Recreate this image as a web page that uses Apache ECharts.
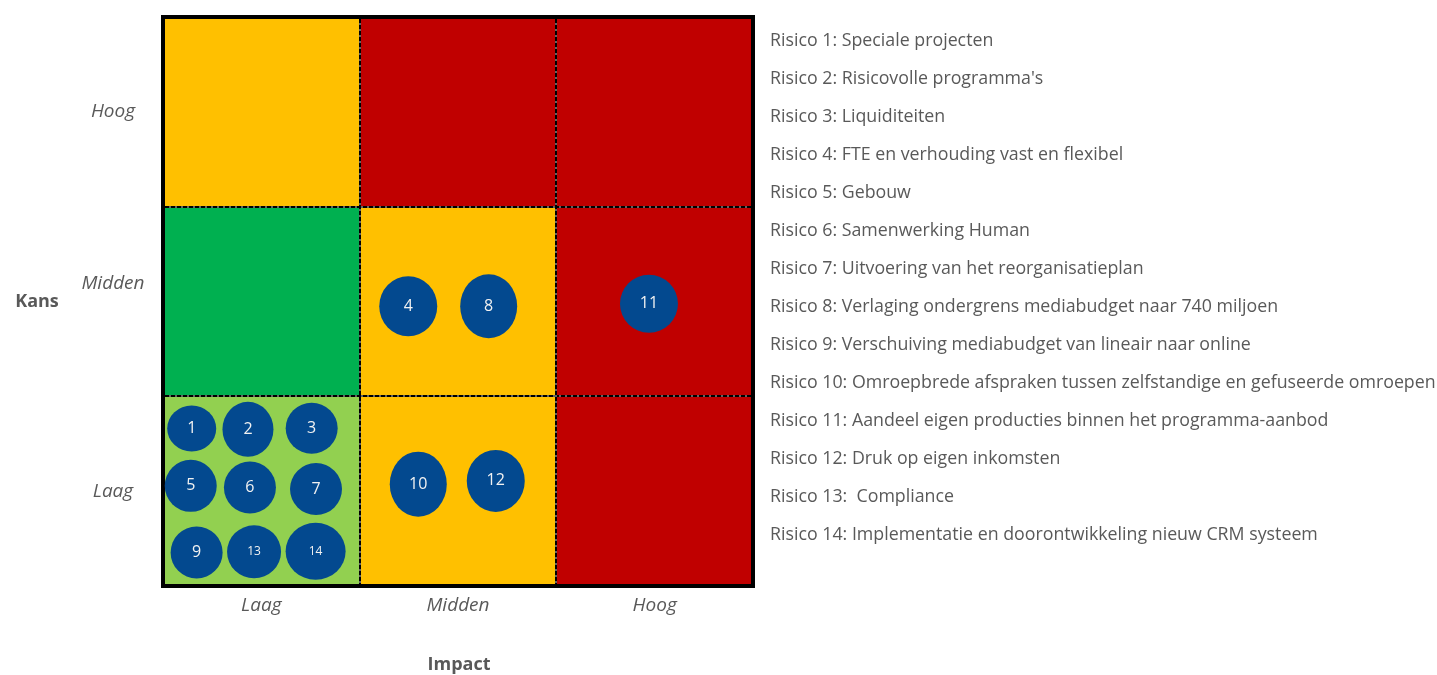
<!DOCTYPE html>
<html>
<head>
<meta charset="utf-8">
<script src="https://cdn.jsdelivr.net/npm/echarts@6/dist/echarts.min.js"></script>
<style>html,body{margin:0;padding:0;background:#fff;}#c{width:1437px;height:675px;}</style>
</head>
<body>
<div id="c"></div>
<script>
// ---- data ----
const levels = ['Laag', 'Midden', 'Hoog'];
// cell zone per row (bottom -> top), per column (left -> right)
const zoneLaag   = ['lichtgroen', 'oranje', 'rood'];
const zoneMidden = ['groen', 'oranje', 'rood'];
const zoneHoog   = ['oranje', 'rood', 'rood'];
const riskIds = ['1','2','3','4','5','6','7','8','9','10','11','12','13','14'];
const riskImpact = [0.146, 0.432, 0.756, 1.247, 0.141, 0.442, 0.778, 1.656, 0.171, 1.298, 2.471, 1.692, 0.463, 0.776];
const riskKans   = [0.830, 0.826, 0.832, 1.475, 0.528, 0.519, 0.511, 1.475, 0.177, 0.537, 1.488, 0.554, 0.180, 0.183];
const riskNames = [
  'Risico 1: Speciale projecten',
  "Risico 2: Risicovolle programma's",
  'Risico 3: Liquiditeiten',
  'Risico 4: FTE en verhouding vast en flexibel',
  'Risico 5: Gebouw',
  'Risico 6: Samenwerking Human',
  'Risico 7: Uitvoering van het reorganisatieplan',
  'Risico 8: Verlaging ondergrens mediabudget naar 740 miljoen',
  'Risico 9: Verschuiving mediabudget van lineair naar online',
  'Risico 10: Omroepbrede afspraken tussen zelfstandige en gefuseerde omroepen',
  'Risico 11: Aandeel eigen producties binnen het programma-aanbod',
  'Risico 12: Druk op eigen inkomsten',
  'Risico 13:  Compliance',
  'Risico 14: Implementatie en doorontwikkeling nieuw CRM systeem'
];

// ---- style ----
const zoneColors = { lichtgroen: '#92D050', groen: '#00B050', oranje: '#FFC000', rood: '#C00000' };
const bubbleShape = [[49,46],[51,55],[52,51],[58,60],[52,52],[52,52],[52,52],[57,64],[52,52],[57,65],[58,58],[58,62],[54,53],[60,57]];
const bubbleFont = [16,16,16,16,16,16,16,16,16,16,16,16,12,12];
const FONT = '"Open Sans", Lato, sans-serif';
const GREY = '#595959';

const cellData = [];
[zoneLaag, zoneMidden, zoneHoog].forEach((row, r) => row.forEach((z, c) => cellData.push([c, r, z])));

const bubbleData = riskIds.map((id, i) => ({
  value: [riskImpact[i], riskKans[i]],
  name: id,
  symbolSize: bubbleShape[i],
  label: { fontSize: bubbleFont[i] }
}));

const chart = echarts.init(document.getElementById('c'), null, { renderer: 'canvas' });
chart.setOption({
  animation: false,
  textStyle: { fontFamily: FONT },
  grid: { left: 163, top: 17, right: 684, bottom: 89, containLabel: false },
  title: {
    text: riskNames.join('\n'),
    left: 770, top: 22, padding: 0,
    textStyle: { fontFamily: FONT, fontSize: 17.8, fontWeight: 'normal', color: GREY, lineHeight: 38 }
  },
  graphic: [
    { type: 'text', x: 37, y: 302, style: { text: 'Kans', fill: GREY, font: 'bold 18px ' + FONT, align: 'center', verticalAlign: 'middle' } },
    { type: 'text', x: 459, y: 665, style: { text: 'Impact', fill: GREY, font: 'bold 18px ' + FONT, align: 'center', verticalAlign: 'middle' } }
  ],
  xAxis: [
    { type: 'value', min: 0, max: 3, interval: 1, show: false },
    { type: 'category', data: levels, position: 'bottom', boundaryGap: true,
      axisLine: { show: false }, axisTick: { show: false }, splitLine: { show: false },
      axisLabel: { color: GREY, fontStyle: 'italic', fontSize: 19, margin: 10, fontFamily: FONT } }
  ],
  yAxis: [
    { type: 'value', min: 0, max: 3, interval: 1, show: false },
    { type: 'category', data: levels, position: 'left', boundaryGap: true,
      axisLine: { show: false }, axisTick: { show: false }, splitLine: { show: false },
      axisLabel: { color: GREY, fontStyle: 'italic', fontSize: 19, margin: 50, align: 'center', fontFamily: FONT,
        formatter: v => v === 'Midden' ? '{m|' + v + '}' : v,
        rich: { m: { color: GREY, fontStyle: 'italic', fontSize: 19, fontFamily: FONT, padding: [0, 0, 36, 0] } } } }
  ],
  series: [
    {
      type: 'custom', xAxisIndex: 0, yAxisIndex: 0, z: 1, silent: true,
      data: cellData,
      renderItem: (params, api) => {
        const c = api.value(0), r = api.value(1);
        const p0 = api.coord([c, r + 1]);
        const p1 = api.coord([c + 1, r]);
        return { type: 'rect', shape: { x: p0[0], y: p0[1], width: p1[0] - p0[0], height: p1[1] - p0[1] },
          style: { fill: zoneColors[cellData[params.dataIndex][2]] } };
      }
    },
    {
      type: 'custom', xAxisIndex: 0, yAxisIndex: 0, z: 2, silent: true,
      data: [[0, 0]],
      renderItem: (params, api) => {
        const tl = api.coord([0, 3]), br = api.coord([3, 0]);
        const children = [];
        [1, 2].forEach(k => {
          const x = Math.round(api.coord([k, 0])[0]);
          const y = Math.round(api.coord([0, k])[1]);
          children.push({ type: 'line', shape: { x1: x, y1: tl[1], x2: x, y2: br[1] }, style: { stroke: '#000000', lineWidth: 2 } });
          children.push({ type: 'line', shape: { x1: x, y1: tl[1], x2: x, y2: br[1] }, style: { stroke: '#c8c8c8', lineWidth: 1, lineDash: [2, 4] } });
          children.push({ type: 'line', shape: { x1: tl[0], y1: y, x2: br[0], y2: y }, style: { stroke: '#000000', lineWidth: 2 } });
          children.push({ type: 'line', shape: { x1: tl[0], y1: y, x2: br[0], y2: y }, style: { stroke: '#c8c8c8', lineWidth: 1, lineDash: [2, 4] } });
        });
        children.push({ type: 'rect', shape: { x: tl[0], y: tl[1], width: br[0] - tl[0], height: br[1] - tl[1] },
          style: { fill: 'none', stroke: '#000000', lineWidth: 4 } });
        return { type: 'group', children };
      }
    },
    {
      type: 'scatter', xAxisIndex: 0, yAxisIndex: 0, z: 3,
      symbol: 'circle',
      itemStyle: { color: '#03498F', opacity: 1 },
      label: { show: true, position: 'inside', formatter: p => p.name, color: '#F2F2F2', fontFamily: FONT },
      data: bubbleData
    }
  ]
});
</script>
</body>
</html>
